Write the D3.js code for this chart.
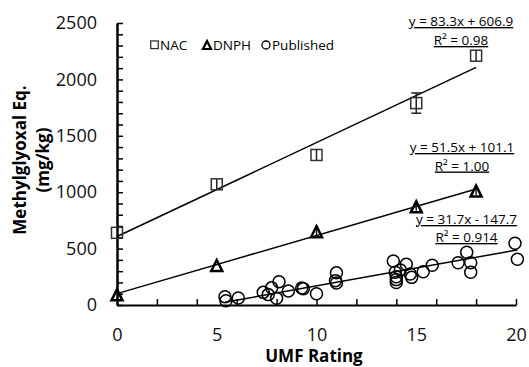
<!DOCTYPE html>
<html>
<head>
<meta charset="utf-8">
<script src="https://cdn.jsdelivr.net/npm/d3@7"></script>
<style>
  body { margin: 0; background: #fff; }
  text { font-family: "Open Sans", sans-serif; }
</style>
</head>
<body>
<div id="chart"></div>
<script>
// Data
var seriesNames = ["NAC", "DNPH", "Published"];

var nacUmf = [0, 5, 10, 15, 18];
var nacValues = [640, 1070, 1330, 1790, 2210];
var nacErrors = [0, 50, 50, 90, 50];

var dnphUmf = [0, 5, 10, 15, 18];
var dnphValues = [90, 350, 650, 870, 1010];
var dnphErrors = [0, 0, 35, 35, 35];

var publishedUmf = [5.41, 5.46, 6.08, 7.33, 7.58, 7.75, 8.12, 8.0, 8.59, 9.26, 9.34, 10.0,
  11.0, 10.95, 11.0, 13.85, 13.95, 14.0, 14.0, 14.0, 14.2, 14.5, 14.7, 14.77,
  15.35, 15.8, 17.1, 17.53, 17.73, 17.73, 19.95, 20.07];
var publishedValues = [74, 38, 62, 112, 92, 152, 207, 59, 125, 150, 145, 100,
  285, 216, 195, 390, 290, 250, 225, 200, 310, 362, 275, 245,
  295, 352, 375, 467, 375, 290, 547, 405];

// Trendline fits shown on the chart
var slopes = [83.3, 51.5, 31.7];
var intercepts = [606.9, 101.1, -147.7];
var eqLabels = ["y = 83.3x + 606.9", "y = 51.5x + 101.1", "y = 31.7x - 147.7"];
var r2Labels = ["R\u00b2 = 0.98", "R\u00b2 = 1.00", "R\u00b2 = 0.914"];

var xTicks = [0, 5, 10, 15, 20];
var yTicks = [0, 500, 1000, 1500, 2000, 2500];

// SVG
var svgWidth = 529;
var svgHeight = 367;
var margin = { top: 23, right: 13, bottom: 62, left: 117 };
var chartWidth = svgWidth - margin.left - margin.right;
var chartHeight = svgHeight - margin.top - margin.bottom;

var svg = d3.select("#chart")
  .append("svg")
  .attr("width", svgWidth)
  .attr("height", svgHeight)
  .style("display", "block");

svg.append("rect").attr("width", svgWidth).attr("height", svgHeight).attr("fill", "#fff");

var chartGroup = svg.append("g")
  .attr("transform", `translate(${margin.left}, ${margin.top})`);

var xScale = d3.scaleLinear().domain([0, 20]).range([0, chartWidth]);
var yScale = d3.scaleLinear().domain([0, 2500]).range([chartHeight, 0]);

// y axis: minor ticks inside every 100, labels every 500
var yAxis = d3.axisLeft(yScale)
  .tickValues(d3.range(0, 2501, 100))
  .tickSizeInner(-6)
  .tickSizeOuter(0)
  .tickPadding(20)
  .tickFormat(d => yTicks.indexOf(d) >= 0 ? d : "");

var yg = chartGroup.append("g").call(yAxis);
yg.select(".domain").attr("stroke", "#000").attr("stroke-width", 2.5);
yg.selectAll(".tick line").attr("stroke", "#000").attr("stroke-width", 1.5);
yg.selectAll("text").attr("font-size", 18).attr("fill", "#111")
  .attr("font-family", "Open Sans, sans-serif");

// x axis: ticks every 2, labels every 5
var xAxisTicks = d3.axisBottom(xScale)
  .tickValues(d3.range(0, 21, 2))
  .tickSizeInner(-6)
  .tickSizeOuter(0)
  .tickFormat("");

var xg = chartGroup.append("g")
  .attr("transform", `translate(0, ${chartHeight})`)
  .call(xAxisTicks);
xg.select(".domain").attr("stroke", "#000").attr("stroke-width", 2);
xg.selectAll(".tick line").attr("stroke", "#000").attr("stroke-width", 1.5);

var xAxisLabels = d3.axisBottom(xScale)
  .tickValues(xTicks)
  .tickSize(0)
  .tickPadding(23);

var xl = chartGroup.append("g")
  .attr("transform", `translate(0, ${chartHeight})`)
  .call(xAxisLabels);
xl.select(".domain").remove();
xl.selectAll("text").attr("font-size", 18).attr("fill", "#111")
  .attr("font-family", "Open Sans, sans-serif");

// Trendlines
var fits = [
  { x0: d3.min(nacUmf), x1: d3.max(nacUmf) },
  { x0: d3.min(dnphUmf), x1: d3.max(dnphUmf) },
  { x0: d3.min(publishedUmf), x1: d3.max(publishedUmf) }
];
fits.forEach((f, i) => {
  chartGroup.append("line")
    .attr("x1", xScale(f.x0))
    .attr("y1", yScale(slopes[i] * f.x0 + intercepts[i]))
    .attr("x2", xScale(f.x1))
    .attr("y2", yScale(slopes[i] * f.x1 + intercepts[i]))
    .attr("stroke", "#000")
    .attr("stroke-width", 1.5);
});

// Marker shapes
function trianglePath(w, h) {
  return `M0,${-h / 2}L${w / 2},${h / 2}L${-w / 2},${h / 2}Z`;
}

// Error bars
function errorBars(xs, ys, errs, half) {
  var g = chartGroup.append("g");
  xs.forEach((x, i) => {
    if (!errs[i]) return;
    var cx = xScale(x);
    var top = yScale(ys[i] + errs[i]);
    var bot = yScale(ys[i] - errs[i]);
    g.append("line").attr("x1", cx).attr("x2", cx).attr("y1", top).attr("y2", bot)
      .attr("stroke", "#222").attr("stroke-width", 1.5);
    if (bot - top > half * 2 + 2) {
      [top, bot].forEach(y => {
        g.append("line").attr("x1", cx - 5).attr("x2", cx + 5).attr("y1", y).attr("y2", y)
          .attr("stroke", "#222").attr("stroke-width", 1.5);
      });
    }
  });
}
errorBars(nacUmf, nacValues, nacErrors, 6);
errorBars(dnphUmf, dnphValues, dnphErrors, 6);

// NAC squares
chartGroup.selectAll(".nac")
  .data(nacUmf)
  .enter().append("rect")
  .attr("class", "nac")
  .attr("x", (d, i) => xScale(d) - 5.5)
  .attr("y", (d, i) => yScale(nacValues[i]) - 5.5)
  .attr("width", 11)
  .attr("height", 11)
  .attr("fill", "none")
  .attr("stroke", "#333")
  .attr("stroke-width", 1.5);

// DNPH triangles
chartGroup.selectAll(".dnph")
  .data(dnphUmf)
  .enter().append("path")
  .attr("class", "dnph")
  .attr("d", trianglePath(11, 11))
  .attr("transform", (d, i) => `translate(${xScale(d)}, ${yScale(dnphValues[i])})`)
  .attr("fill", "none")
  .attr("stroke", "#000")
  .attr("stroke-width", 2.5)
  .attr("stroke-linejoin", "miter");

// Published circles
chartGroup.selectAll(".pub")
  .data(publishedUmf)
  .enter().append("circle")
  .attr("class", "pub")
  .attr("cx", d => xScale(d))
  .attr("cy", (d, i) => yScale(publishedValues[i]))
  .attr("r", 6)
  .attr("fill", "none")
  .attr("stroke", "#000")
  .attr("stroke-width", 1.5);

// Equation labels
var eqPos = [
  { x: 461, y: 26, ry: 45 },
  { x: 462, y: 152, ry: 170.5 },
  { x: 466.5, y: 224, ry: 242 }
];
eqPos.forEach((p, i) => {
  svg.append("text")
    .attr("x", p.x).attr("y", p.y)
    .attr("text-anchor", "middle")
    .attr("font-size", 13.5)
    .attr("text-decoration", "underline")
    .text(eqLabels[i]);
  svg.append("text")
    .attr("x", p.x).attr("y", p.ry)
    .attr("text-anchor", "middle")
    .attr("font-size", 13.5)
    .attr("text-decoration", "underline")
    .text(r2Labels[i]);
});

// Legend
var legend = svg.append("g");
legend.append("rect").attr("x", 150.7).attr("y", 41).attr("width", 7.6).attr("height", 7.6)
  .attr("fill", "none").attr("stroke", "#333").attr("stroke-width", 1.3);
legend.append("path").attr("d", trianglePath(8, 8))
  .attr("transform", "translate(207, 45)")
  .attr("fill", "none").attr("stroke", "#000").attr("stroke-width", 2.2);
legend.append("circle").attr("cx", 266).attr("cy", 45).attr("r", 4)
  .attr("fill", "none").attr("stroke", "#000").attr("stroke-width", 1.3);
var legendX = [160, 213, 272];
seriesNames.forEach((name, i) => {
  legend.append("text")
    .attr("x", legendX[i]).attr("y", 50)
    .attr("font-size", 13.5)
    .text(name);
});

// Axis titles
svg.append("text")
  .attr("x", 314).attr("y", 362)
  .attr("text-anchor", "middle")
  .attr("font-size", 17).attr("font-weight", "bold")
  .text("UMF Rating");

svg.append("text")
  .attr("transform", "rotate(-90)")
  .attr("x", -160).attr("y", 26)
  .attr("text-anchor", "middle")
  .attr("font-size", 17).attr("font-weight", "bold")
  .text("Methylglyoxal Eq.");

svg.append("text")
  .attr("transform", "rotate(-90)")
  .attr("x", -160).attr("y", 49)
  .attr("text-anchor", "middle")
  .attr("font-size", 17).attr("font-weight", "bold")
  .text("(mg/kg)");
</script>
</body>
</html>
